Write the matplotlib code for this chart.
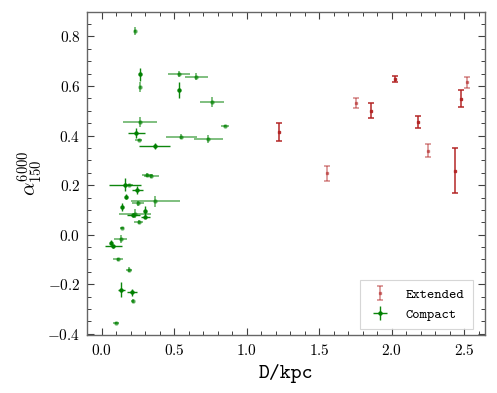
import numpy as np
import matplotlib
matplotlib.use("Agg")
import matplotlib.pyplot as plt
from matplotlib.ticker import MultipleLocator

# ----------------------------------------------------
# data
# ----------------------------------------------------
# extended sources
ext_d = [1.225, 1.554, 1.751, 1.855, 2.025, 2.184, 2.250, 2.439, 2.480, 2.517]
ext_alpha = [0.416, 0.247, 0.532, 0.501, 0.629, 0.455, 0.338, 0.259, 0.549, 0.615]
ext_err = [0.036, 0.031, 0.021, 0.030, 0.011, 0.024, 0.026, 0.090, 0.034, 0.022]
ext_dark = [1, 0, 0, 1, 1, 1, 0, 1, 1, 0]

# compact sources
cmp_d = [0.228, 0.264, 0.264, 0.535, 0.650, 0.534, 0.761, 0.262, 0.850, 0.239,
         0.253, 0.549, 0.735, 0.365, 0.315, 0.342, 0.159, 0.186, 0.243, 0.370,
         0.248, 0.168, 0.140, 0.228, 0.301, 0.218, 0.301, 0.253, 0.140, 0.131,
         0.062, 0.080, 0.112, 0.188, 0.135, 0.209, 0.214, 0.099]
cmp_alpha = [0.822, 0.647, 0.595, 0.648, 0.637, 0.584, 0.537, 0.455, 0.437, 0.410,
             0.383, 0.396, 0.387, 0.358, 0.240, 0.236, 0.202, 0.201, 0.181, 0.134,
             0.127, 0.153, 0.111, 0.085, 0.095, 0.081, 0.073, 0.051, 0.028, -0.017,
             -0.032, -0.047, -0.099, -0.142, -0.222, -0.233, -0.267, -0.357]
cmp_derr = [0.005, 0.004, 0.004, 0.076, 0.079, 0.004, 0.083, 0.116, 0.028, 0.059,
            0.021, 0.107, 0.098, 0.108, 0.038, 0.049, 0.112, 0.032, 0.038, 0.166,
            0.041, 0.004, 0.004, 0.112, 0.005, 0.044, 0.034, 0.029, 0.012, 0.045,
            0.004, 0.059, 0.034, 0.022, 0.022, 0.036, 0.010, 0.020]
cmp_aerr = [0.016, 0.027, 0.021, 0.012, 0.014, 0.033, 0.020, 0.021, 0.004, 0.019,
            0.005, 0.011, 0.015, 0.013, 0.008, 0.008, 0.025, 0.005, 0.015, 0.023,
            0.010, 0.010, 0.015, 0.017, 0.019, 0.008, 0.005, 0.008, 0.004, 0.015,
            0.010, 0.006, 0.006, 0.010, 0.029, 0.014, 0.008, 0.004]
cmp_dark = [0, 1, 0, 0, 0, 1, 0, 0, 0, 1,
            0, 0, 0, 1, 0, 0, 1, 0, 1, 0,
            0, 1, 1, 0, 1, 1, 1, 0, 0, 0,
            1, 1, 0, 0, 1, 1, 0, 0]

plt.rcParams['font.family'] = ['cmr10', 'DejaVu Serif']
plt.rcParams['mathtext.fontset'] = 'cm'

RED = '#b22222'
GREEN = '#008000'
MONO = ['cmtt10', 'DejaVu Sans Mono']

fig = plt.figure(figsize=(4.97, 3.93), dpi=100)
ax = fig.add_axes([0.1757, 0.1476, 0.8008, 0.8226])

ext_d = np.array(ext_d); ext_alpha = np.array(ext_alpha)
ext_err = np.array(ext_err); ext_dark = np.array(ext_dark, dtype=bool)
cmp_d = np.array(cmp_d); cmp_alpha = np.array(cmp_alpha)
cmp_derr = np.array(cmp_derr); cmp_aerr = np.array(cmp_aerr)
cmp_dark = np.array(cmp_dark, dtype=bool)

# Extended: light ones carry the legend label
for mask, a, lab in [(~ext_dark, 0.5, 'Extended'), (ext_dark, 0.9, None)]:
    ax.errorbar(ext_d[mask], ext_alpha[mask], yerr=ext_err[mask], fmt='s',
                ms=2, color=RED, ecolor=RED, elinewidth=1.2, capsize=2.5,
                capthick=1.2, alpha=a, label=lab)

# Compact: dark ones carry the legend label
for mask, a, lab in [(cmp_dark, 0.95, 'Compact'), (~cmp_dark, 0.5, None)]:
    ax.errorbar(cmp_d[mask], cmp_alpha[mask], xerr=cmp_derr[mask],
                yerr=cmp_aerr[mask], fmt='o', ms=2.2, color=GREEN,
                ecolor=GREEN, elinewidth=1.0 if a > 0.9 else 1.4, capsize=0,
                alpha=a, label=lab)

ax.set_xlim(-0.1, 2.645)
ax.set_ylim(-0.405, 0.9)
ax.xaxis.set_major_locator(MultipleLocator(0.5))
ax.xaxis.set_minor_locator(MultipleLocator(0.1))
ax.yaxis.set_major_locator(MultipleLocator(0.2))
ax.yaxis.set_minor_locator(MultipleLocator(0.05))
ax.xaxis.set_major_formatter(plt.FuncFormatter(lambda v, p: f'${v:.1f}$'))
ax.yaxis.set_major_formatter(plt.FuncFormatter(lambda v, p: f'${v:.1f}$'))

ax.tick_params(which='both', direction='in', top=True, right=True,
               labelsize=11, color='0.25')
ax.tick_params(which='major', length=5, width=0.8)
ax.tick_params(which='minor', length=3, width=0.7)
ax.tick_params(axis='x', which='major', pad=6)
ax.tick_params(axis='y', which='major', pad=5)
for s in ax.spines.values():
    s.set_color('0.4')
    s.set_linewidth(1.0)

ax.set_xlabel('D/kpc', family=MONO, fontsize=15, labelpad=4)
ax.set_ylabel(r'$\alpha_{150}^{6000}$', fontsize=15, labelpad=2)

leg = ax.legend(loc='lower right', bbox_to_anchor=(0.969, 0.019),
                prop={'family': MONO, 'size': 10},
                frameon=True, fancybox=False, edgecolor='0.8',
                borderaxespad=0.0, handlelength=1.7, borderpad=0.6,
                handletextpad=1.0)
leg.get_frame().set_linewidth(0.8)

fig.savefig('out.png', dpi=100)
